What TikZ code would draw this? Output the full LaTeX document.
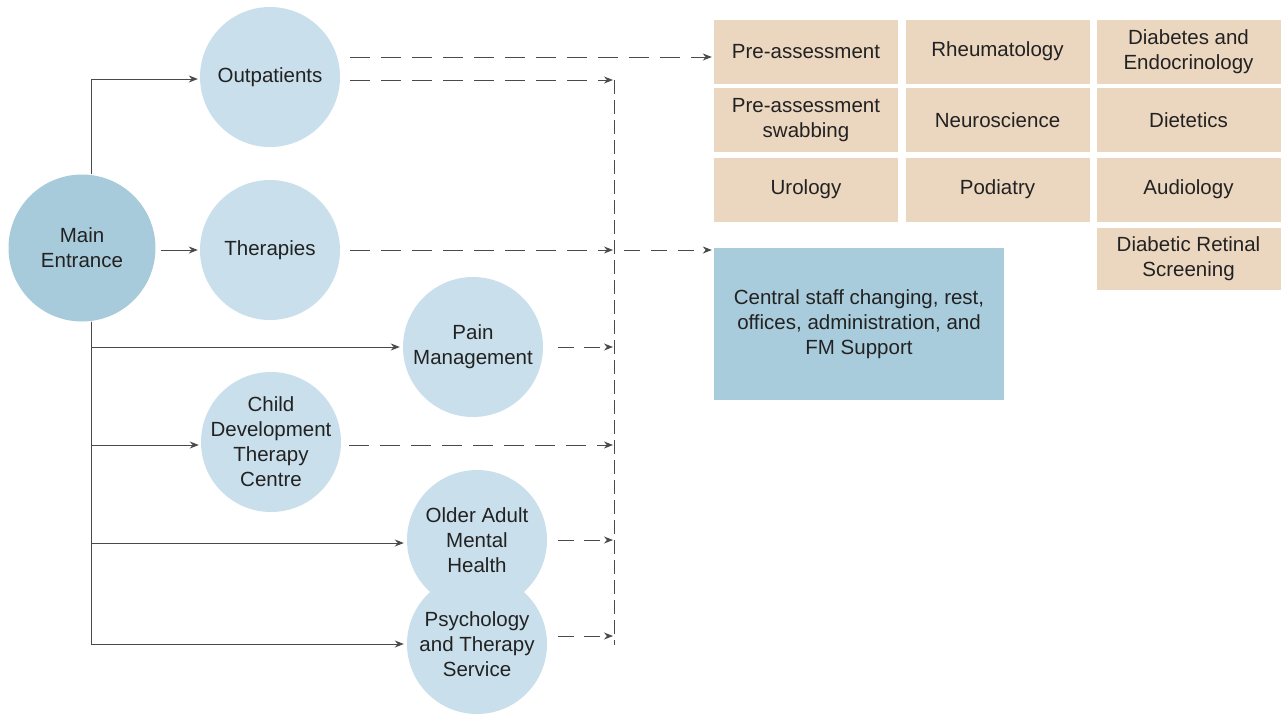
\documentclass[tikz,border=0pt]{standalone}
\usepackage{fontspec}
\setmainfont{Liberation Sans}
\usetikzlibrary{arrows.meta}
\definecolor{tanbox}{HTML}{EBD6BF}
\definecolor{bluebox}{HTML}{A9CCDD}
\definecolor{maincirc}{HTML}{A8CBDB}
\definecolor{lightcirc}{HTML}{C9DFEB}
\definecolor{txt}{HTML}{222222}
\definecolor{linecol}{HTML}{4A4A4A}
\begin{document}
\begin{tikzpicture}[x=1pt,y=-1pt,
  every node/.style={font=\fontsize{20.5}{25}\selectfont, text=txt, align=center},
  circ/.style={circle, fill=lightcirc, minimum size=140pt, inner sep=0pt},
  maincirc/.style={circle, fill=maincirc, minimum size=147pt, inner sep=0pt},
  tbox/.style={rectangle, fill=tanbox, minimum width=184pt, minimum height=64pt, inner sep=0pt},
  cbox/.style={rectangle, fill=bluebox, minimum width=290pt, minimum height=152pt, inner sep=0pt},
  solidarr/.style={draw=linecol, line width=1pt, -{Stealth[length=9pt,width=7pt]}},
  dasharr/.style={draw=linecol, line width=1pt, dash pattern=on 20pt off 11pt, -{Stealth[length=9pt,width=7pt]}},
  vdash/.style={draw=linecol, line width=1pt, dash pattern=on 14pt off 6pt}
]
\useasboundingbox (0,0) rectangle (1282,713);

% circles
\node[maincirc] (main) at (82,248) {Main\\Entrance};
\node[circ] (out) at (270,77) {Outpatients};
\node[circ] (ther) at (270,250) {Therapies};
\node[circ] (pain) at (473,347) {Pain\\Management};
\node[circ] (child) at (271,442) {};
\node (childtxt) at (child.center) {Child\\Development\\Therapy\\Centre};
\node[circ] (older) at (477,540) {Older Adult\\Mental\\Health};
\node[circ] (psych) at (477,644) {Psychology\\and Therapy\\Service};

% tan boxes
\node[tbox] (pre) at (806,51.5) {Pre-assessment};
\node[tbox] (rheu) at (997.5,51.5) {Rheumatology};
\node[tbox] (diab) at (1188.5,51.5) {Diabetes and\\Endocrinology};
\node[tbox] (swab) at (806,120) {Pre-assessment\\swabbing};
\node[tbox] (neuro) at (997.5,120) {Neuroscience};
\node[tbox] (diet) at (1188.5,120) {Dietetics};
\node[tbox] (uro) at (806,189.5) {Urology};
\node[tbox] (pod) at (997.5,189.5) {Podiatry};
\node[tbox] (audio) at (1188.5,189.5) {Audiology};
\node[tbox, minimum height=62pt] (retina) at (1188.5,259) {Diabetic Retinal\\Screening};
\node[cbox] (central) at (859,324) {Central staff changing, rest,\\offices, administration, and\\FM Support};

% bus
\coordinate (bustop) at (614,80);
\coordinate (busbot) at (614,645);
\draw[vdash] (bustop) -- (busbot);

% helper coordinates
\path (main.north) ++(9,0) coordinate (mtop);
\path (main.south) ++(9,0) coordinate (mbot);
\path (out.west) ++(0,2) coordinate (outin);
\path (child.west) ++(0,3) coordinate (childin);
\path (older.west) ++(0,3) coordinate (olderin);
\path (out.east) ++(10,-20) coordinate (o1);
\path (out.east) ++(10,3) coordinate (o2);
\path (ther.east) ++(10,0) coordinate (t1);
\path (pain.east) ++(15,0) coordinate (p1);
\path (child.east) ++(8,3) coordinate (c1);
\path (older.east) ++(11,0) coordinate (a1);
\path (psych.east) ++(11,-8) coordinate (s1);

% solid connectors from main entrance
\draw[solidarr, shorten >=2pt] (mtop) |- (outin);
\draw[solidarr, shorten >=2pt] (main.east |- ther.west) ++(5,0) -- (ther.west);
\draw[solidarr, shorten >=3pt] (mbot) |- (pain.west);
\draw[solidarr, shorten >=2pt] (mbot) |- (childin);
\draw[solidarr, shorten >=3pt] (mbot) |- (olderin);
\draw[solidarr, shorten >=3pt] (mbot) |- (psych.west);

% dashed connectors
\draw[dasharr, shorten >=2pt] (o1) -- (o1 -| pre.west);
\draw[dasharr, shorten >=1pt] (o2) -- (o2 -| bustop);
\draw[dasharr, shorten >=1pt] (t1) -- (t1 -| bustop);
\draw[dasharr, dash pattern=on 16pt off 11pt, shorten <=10pt, shorten >=2pt] (t1 -| bustop) -- (t1 -| central.west);
\draw[dasharr, dash pattern=on 16pt off 10pt, shorten >=1pt] (p1) -- (p1 -| bustop);
\draw[dasharr, shorten >=1pt] (c1) -- (c1 -| bustop);
\draw[dasharr, dash pattern=on 16pt off 10pt, shorten >=1pt] (a1) -- (a1 -| bustop);
\draw[dasharr, dash pattern=on 16pt off 10pt, shorten >=1pt] (s1) -- (s1 -| bustop);
\end{tikzpicture}
\end{document}
